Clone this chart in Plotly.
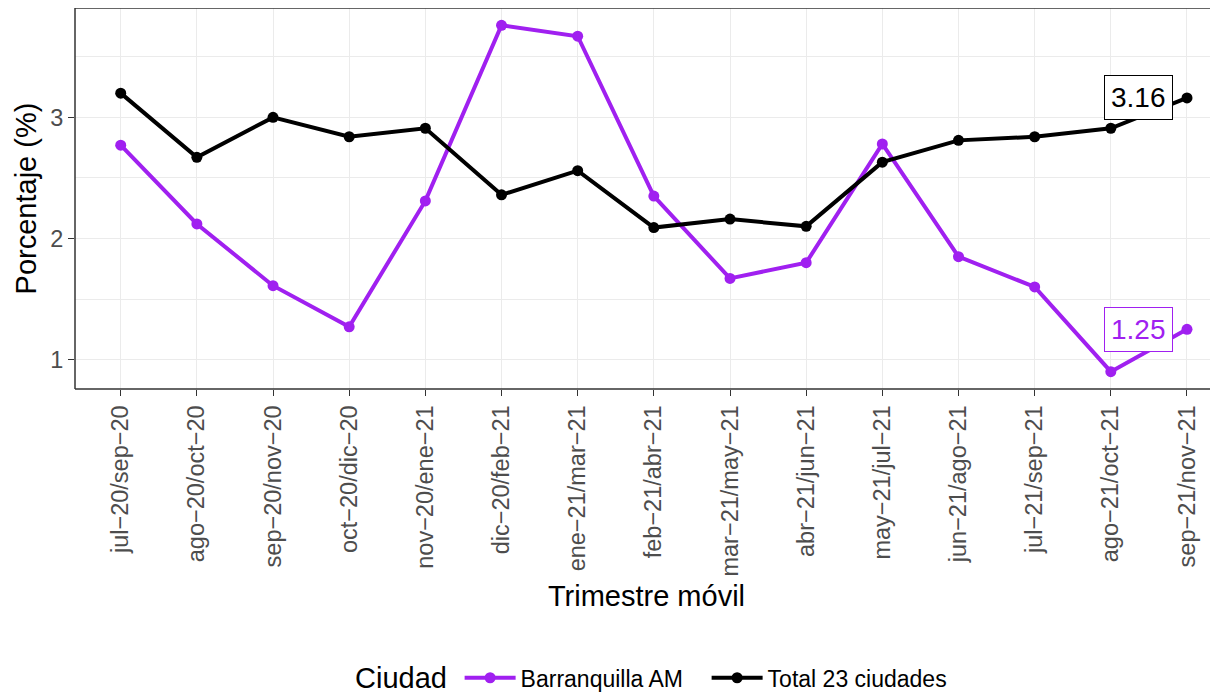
import plotly.graph_objects as go

categories = ["jul−20/sep−20", "ago−20/oct−20", "sep−20/nov−20", "oct−20/dic−20",
              "nov−20/ene−21", "dic−20/feb−21", "ene−21/mar−21", "feb−21/abr−21",
              "mar−21/may−21", "abr−21/jun−21", "may−21/jul−21", "jun−21/ago−21",
              "jul−21/sep−21", "ago−21/oct−21", "sep−21/nov−21"]
barranquilla = [2.77, 2.12, 1.61, 1.27, 2.31, 3.76, 3.67, 2.35, 1.67, 1.80, 2.78, 1.85, 1.60, 0.90, 1.25]
total23 = [3.20, 2.67, 3.00, 2.84, 2.91, 2.36, 2.56, 2.09, 2.16, 2.10, 2.63, 2.81, 2.84, 2.91, 3.16]
series_names = ["Barranquilla AM", "Total 23 ciudades"]
colors = ["#A020F0", "#000000"]

FONT = "Liberation Sans, Arial, sans-serif"
xidx = list(range(len(categories)))

fig = go.Figure()
for name, vals, col in zip(series_names, [barranquilla, total23], colors):
    fig.add_trace(go.Scatter(x=xidx, y=vals, mode="lines+markers", name=name,
                             line=dict(color=col, width=4),
                             marker=dict(color=col, size=11)))

for vals, col in zip([total23, barranquilla], ["#000000", "#A020F0"]):
    fig.add_annotation(x=xidx[-1], y=vals[-1], text=f"{vals[-1]:.2f}", showarrow=False,
                       xanchor="right", yanchor="middle", xshift=-14,
                       font=dict(family=FONT, size=28, color=col),
                       bgcolor="white", bordercolor=col, borderwidth=1, borderpad=6)

# legend title as text
fig.add_annotation(x=0.243, y=-0.758, xref="paper", yref="paper", text="Ciudad",
                   showarrow=False, xanchor="left", yanchor="middle",
                   font=dict(family=FONT, size=29, color="#000000"))

x0, x1 = -0.6, 14 + 31 / 76.14
fig.update_layout(
    width=1218, height=693,
    margin=dict(l=67, r=8, t=0, b=312, autoexpand=False),
    paper_bgcolor="white", plot_bgcolor="white",
    font=dict(family=FONT, color="#000000"),
    showlegend=True,
    legend=dict(orientation="h", x=0.3365, xanchor="left", y=-0.758, yanchor="middle",
                font=dict(size=23, family=FONT), itemwidth=51,
                entrywidth=181, entrywidthmode="pixels"),
    xaxis=dict(range=[x0, x1], tickmode="array", tickvals=xidx, ticktext=categories,
               tickangle=-90, tickfont=dict(size=23.5, color="#4D4D4D", family=FONT),
               ticks="outside", ticklen=6, tickcolor="#333333", tickwidth=1.2,
               showgrid=True, gridcolor="#EBEBEB", gridwidth=1.3, zeroline=False,
               title=dict(text="Trimestre móvil", font=dict(size=29, family=FONT), standoff=10),
               showline=False, automargin=False),
    yaxis=dict(range=[0.757, 3.903], tickvals=[1, 2, 3],
               tickfont=dict(size=23.5, color="#4D4D4D", family=FONT),
               ticks="outside", ticklen=6, tickcolor="#333333", tickwidth=1.2,
               showgrid=True, gridcolor="#EBEBEB", gridwidth=1.3, zeroline=False,
               minor=dict(tickvals=[1.5, 2.5, 3.5], showgrid=True, gridcolor="#EBEBEB", gridwidth=0.7, ticks=""),
               title=dict(text="Porcentaje (%)", font=dict(size=29, family=FONT), standoff=5),
               showline=False, automargin=False),
)
# panel border (right side lies outside the visible area)
border = dict(color="#333333", width=1.5)
fig.add_shape(type="line", xref="paper", yref="paper", x0=0, x1=0, y0=0, y1=1, line=border)
fig.add_shape(type="line", xref="paper", yref="paper", x0=0, x1=1.02, y0=1, y1=1, line=border)
fig.add_shape(type="line", xref="paper", yref="paper", x0=0, x1=1.02, y0=0, y1=0, line=border)

fig.write_html("out.html")
